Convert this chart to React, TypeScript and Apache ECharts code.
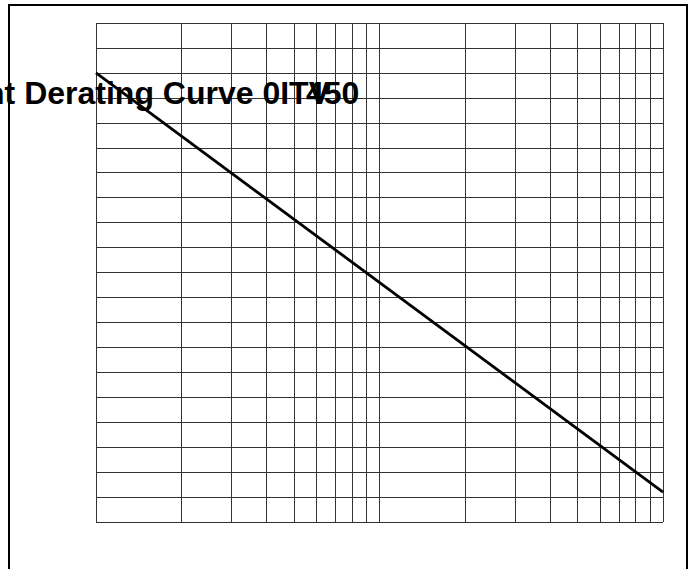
import React, { useEffect, useRef } from "react";
import * as echarts from "echarts";

const titleMain = "Current Derating Curve 0ITV";
const titleTail = "450";
const xRange = [1, 100];
const yRange = [0, 100];
const yInterval = 5;
const curveX = [1, 100];
const curveY = [90, 6];
const minorGridX = [2, 3, 4, 5, 6, 7, 8, 9, 20, 30, 40, 50, 60, 70, 80, 90];

export default function App() {
  const ref = useRef<HTMLDivElement>(null);
  useEffect(() => {
    if (!ref.current) return;
    const chart = echarts.init(ref.current, undefined, { renderer: "svg" });
    const gridColor = "#333";
    const font = "bold 32px 'Liberation Sans', Arial, sans-serif";
    chart.setOption({
      animation: false,
      backgroundColor: "#fff",
      grid: { left: 96, top: 23, right: 33, bottom: 47, show: false },
      xAxis: {
        type: "log",
        logBase: 10,
        min: xRange[0],
        max: xRange[1],
        axisLine: { show: false },
        axisTick: { show: false },
        axisLabel: { show: false },
        splitLine: { show: true, lineStyle: { color: gridColor, width: 1 } },
      },
      yAxis: {
        type: "value",
        min: yRange[0],
        max: yRange[1],
        interval: yInterval,
        axisLine: { show: false },
        axisTick: { show: false },
        axisLabel: { show: false },
        splitLine: { show: true, lineStyle: { color: gridColor, width: 1 } },
      },
      series: [
        {
          type: "line",
          data: curveX.map((x, i) => [x, curveY[i]]),
          symbol: "none",
          lineStyle: { color: "#000", width: 2.8 },
          z: 20,
          markLine: {
            silent: true,
            symbol: "none",
            label: { show: false },
            lineStyle: { color: gridColor, width: 1, type: "solid" },
            data: minorGridX.map((v) => ({ xAxis: v })),
            z: 1,
          },
        },
      ],
      graphic: [
        {
          type: "rect",
          shape: { x: 9, y: 5, width: 678, height: 620 },
          style: { fill: "none", stroke: "#000", lineWidth: 2 },
          silent: true,
        },
        {
          type: "text",
          x: 330,
          y: 93,
          style: {
            text: titleMain,
            font,
            fill: "#000",
            align: "right",
            verticalAlign: "middle",
          },
          z: 10,
        },
        {
          type: "text",
          x: 306,
          y: 93,
          style: {
            text: titleTail,
            font,
            fill: "#000",
            align: "left",
            verticalAlign: "middle",
          },
          z: 10,
        },
      ],
    });
    return () => chart.dispose();
  }, []);
  return (
    <div
      ref={ref}
      style={{ position: "absolute", left: 0, top: 0, width: 696, height: 569 }}
    />
  );
}
